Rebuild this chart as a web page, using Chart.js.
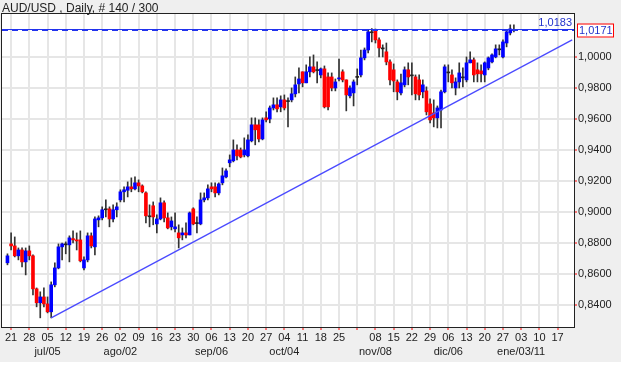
<!DOCTYPE html>
<html>
<head>
<meta charset="utf-8">
<script src="https://cdn.jsdelivr.net/npm/chart.js@4.4.0/dist/chart.umd.min.js"></script>
<style>
  html, body { margin: 0; padding: 0; background: #fff; }
  #wrap { position: relative; width: 621px; height: 368px; }
  #title { position: absolute; left: 2px; top: 1px; font: 12px "Liberation Sans", Arial, sans-serif; color: #222; white-space: pre; }
</style>
</head>
<body>
<div id="wrap">
  <canvas id="chart" width="621" height="368"></canvas>
  <div id="title">AUD/USD , Daily, # 140 / 300</div>
</div>
<script>
// daily candles, 18 jun 2010 .. 30 dic 2010
const openP = [
  .8672,.8794,.8781,.8717,.8755,.8678,.8749,.8717,.8504,.8414,
  .8452,.8407,.8356,.8530,.8639,.8775,.8794,.8788,.8828,.8820,
  .8820,.8639,.8691,.8846,.8775,.8949,.8962,.9014,.9020,.8955,
  .9014,.9078,.9130,.9140,.9162,.9149,.9188,.9168,.9123,.8975,
  .9040,.8923,.8955,.9059,.8962,.8904,.8891,.8865,.8852,.8865,
  .8852,.9020,.8925,.8923,.9078,.9091,.9162,.9162,.9123,.9188,
  .9226,.9317,.9330,.9400,.9400,.9368,.9362,.9459,.9562,.9562,
  .9471,.9607,.9600,.9671,.9691,.9678,.9723,.9712,.9723,.9762,
  .9826,.9904,.9833,.9904,.9936,.9912,.9884,.9923,.9871,.9871,
  .9800,.9858,.9904,.9852,.9749,.9768,.9868,.9884,.9994,1.0045,
  1.0156,1.0168,1.0110,1.0058,1.0033,.9968,.9917,.9839,.9768,.9820,
  .9917,.9884,.9871,.9852,.9775,.9781,.9697,.9639,.9607,.9658,
  .9775,.9903,.9884,.9800,.9839,.9871,.9852,.9962,.9981,.9917,
  .9910,.9884,.9929,.9968,1.0000,1.0046,1.0000,1.0090,1.0155,1.0176
];
const highP = [
  .8730,.8865,.8839,.8768,.8768,.8768,.8781,.8723,.8510,.8485,
  .8510,.8452,.8549,.8672,.8794,.8800,.8807,.8846,.8878,.8865,
  .8878,.8710,.8865,.8865,.8968,.8975,.9033,.9078,.9033,.9046,
  .9059,.9143,.9162,.9194,.9220,.9226,.9207,.9175,.9130,.9046,
  .9065,.8981,.9091,.9072,.8994,.8968,.8994,.8917,.8897,.8930,
  .9000,.9027,.8968,.9123,.9123,.9175,.9188,.9188,.9188,.9284,
  .9278,.9368,.9465,.9433,.9413,.9478,.9497,.9607,.9607,.9594,
  .9607,.9646,.9684,.9736,.9736,.9749,.9755,.9736,.9800,.9871,
  .9929,.9904,.9949,1.0000,1.0013,.9968,.9929,.9942,.9897,.9897,
  .9858,.9987,.9917,.9852,.9813,.9852,.9923,1.0045,1.0058,1.0174,
  1.0183,1.0180,1.0123,1.0078,1.0090,.9981,.9955,.9852,.9890,.9936,
  .9962,.9962,.9884,.9884,.9852,.9807,.9729,.9723,.9684,.9787,
  .9949,.9949,.9917,.9865,.9962,.9929,1.0000,1.0033,.9994,.9962,
  .9949,.9968,1.0000,1.0020,1.0078,1.0078,1.0110,1.0174,1.0207,1.0207
];
const lowP = [
  .8659,.8755,.8710,.8691,.8646,.8594,.8691,.8465,.8388,.8317,
  .8388,.8349,.8317,.8517,.8633,.8691,.8730,.8678,.8800,.8755,
  .8678,.8626,.8678,.8768,.8723,.8904,.8949,.8968,.8904,.8936,
  .8968,.9065,.9065,.9097,.9130,.9143,.9130,.9123,.8930,.8904,
  .8917,.8865,.8949,.8936,.8891,.8884,.8872,.8768,.8820,.8833,
  .8852,.8917,.8865,.8917,.9065,.9078,.9130,.9097,.9110,.9175,
  .9220,.9291,.9323,.9336,.9349,.9355,.9355,.9452,.9433,.9452,
  .9465,.9581,.9575,.9658,.9646,.9646,.9658,.9549,.9710,.9742,
  .9768,.9807,.9833,.9871,.9897,.9833,.9865,.9671,.9658,.9781,
  .9781,.9845,.9839,.9652,.9736,.9684,.9820,.9871,.9981,1.0026,
  1.0097,1.0090,1.0000,1.0000,.9949,.9820,.9775,.9723,.9755,.9807,
  .9820,.9755,.9723,.9723,.9736,.9626,.9575,.9549,.9542,.9542,
  .9768,.9839,.9800,.9755,.9800,.9807,.9839,.9962,.9839,.9839,
  .9839,.9839,.9917,.9962,.9994,1.0013,.9994,1.0065,1.0142,1.0162
];
const closeP = [
  .8717,.8781,.8717,.8755,.8678,.8749,.8717,.8504,.8414,.8452,
  .8407,.8356,.8530,.8639,.8775,.8794,.8788,.8833,.8820,.8813,
  .8685,.8691,.8846,.8781,.8955,.8962,.9014,.9020,.8955,.9014,
  .9033,.9130,.9143,.9162,.9149,.9188,.9168,.9130,.8975,.8969,
  .8968,.8955,.9059,.8962,.8897,.8942,.8904,.8833,.8865,.8852,
  .8994,.8923,.8930,.9078,.9091,.9149,.9149,.9123,.9181,.9233,
  .9265,.9336,.9400,.9362,.9355,.9400,.9465,.9562,.9530,.9471,
  .9594,.9594,.9671,.9691,.9665,.9723,.9671,.9717,.9762,.9820,
  .9858,.9833,.9904,.9936,.9904,.9917,.9923,.9678,.9678,.9800,
  .9839,.9865,.9852,.9755,.9800,.9839,.9874,.9994,1.0045,1.0162,
  1.0162,1.0110,1.0058,1.0052,.9968,.9852,.9845,.9775,.9833,.9917,
  .9871,.9878,.9762,.9755,.9820,.9646,.9594,.9607,.9671,.9775,
  .9936,.9897,.9833,.9839,.9897,.9865,.9962,.9981,.9884,.9891,
  .9891,.9962,.9994,1.0013,1.0052,1.0052,1.0097,1.0162,1.0181,1.0171
];

// weekly tick labels (mondays), second row = month
const weekLabels = ['21','28','05','12','19','26','02','09','16','23','30','06','13','20','27',
  '04','11','18','25','','08','15','22','29','06','13','20','27','03','10','17'];
const monthLabels = ['','','jul/05','','','','ago/02','','','','','sep/06','','','',
  'oct/04','','','','','nov/08','','','','dic/06','','','','ene/03/11','',''];
const yTicks = [0.84, 0.86, 0.88, 0.90, 0.92, 0.94, 0.96, 0.98, 1.00];

const resistance = 1.0183;
const lastPrice = 1.0171;
const trendDates = ['2010-07-06', '2011-01-21'];
const trendValues = [0.8317, 1.0110];

const firstDay = '2010-06-17';
const firstCandle = '2010-06-18';
const firstMonday = '2010-06-21';
const slotCount = 157;

// weekday slots on the x axis
let slots = [];
let d = new Date(firstDay + 'T00:00:00Z');
while (slots.length < slotCount) {
  let wd = d.getUTCDay();
  if (wd != 0 && wd != 6) slots.push(d.toISOString().slice(0, 10));
  d.setUTCDate(d.getUTCDate() + 1);
}
const c0 = slots.indexOf(firstCandle);
const m0 = slots.indexOf(firstMonday);

function weekIndex(i) {
  let k = (i - m0) / 5;
  return (i >= m0 && Number.isInteger(k) && k < weekLabels.length) ? k : -1;
}

let wickData = [], bodyData = [], bodyColors = [];
for (let i = 0; i < slots.length; i++) {
  let k = i - c0;
  if (k >= 0 && k < openP.length) {
    let o = openP[k], c = closeP[k];
    wickData.push([lowP[k], highP[k]]);
    bodyData.push([Math.min(o, c), Math.max(o, c)]);
    if (Math.abs(c - o) < 0.00065) bodyColors.push('#222222');
    else bodyColors.push(c >= o ? '#0000ff' : '#ff0000');
  } else {
    wickData.push(null);
    bodyData.push(null);
    bodyColors.push('#000');
  }
}
let trendData = trendDates.map((t, i) => ({x: t, y: trendValues[i]}));

const fmt = v => v.toFixed(4).replace('.', ',');
const FONT = '"Liberation Sans", Arial, sans-serif';

const framePlugin = {
  id: 'frame',
  beforeDraw(chart) {
    const ctx = chart.ctx, a = chart.chartArea;
    ctx.save();
    ctx.fillStyle = '#efefef';
    ctx.fillRect(0, 0, chart.width, 362);
    ctx.fillStyle = '#ffffff';
    ctx.fillRect(0, 362, chart.width, chart.height - 362);
    ctx.fillRect(a.left, a.top, a.right - a.left, a.bottom - a.top);
    ctx.restore();
  },
  afterDatasetsDraw(chart) {
    const ctx = chart.ctx, a = chart.chartArea, y = chart.scales.y;
    const yr = Math.round(y.getPixelForValue(resistance)) + 0.5;
    const yl = Math.round(y.getPixelForValue(lastPrice)) + 0.5;
    ctx.save();
    ctx.strokeStyle = '#2233ee';
    ctx.lineWidth = 1.2;
    ctx.beginPath();
    ctx.moveTo(a.left, yr); ctx.lineTo(a.right, yr);
    ctx.stroke();
    ctx.setLineDash([6, 4]);
    ctx.beginPath();
    ctx.moveTo(a.left, yl); ctx.lineTo(a.right, yl);
    ctx.stroke();
    ctx.setLineDash([]);
    ctx.font = '11px ' + FONT;
    ctx.fillStyle = '#2233cc';
    ctx.textAlign = 'right';
    ctx.textBaseline = 'bottom';
    ctx.fillText(fmt(resistance), a.right - 2, yr - 1);
    // boxed last price on the axis
    ctx.fillStyle = '#ffffff';
    ctx.fillRect(577, yl - 6, 36, 13);
    ctx.strokeStyle = '#ff0000';
    ctx.lineWidth = 1;
    ctx.strokeRect(577.5, yl - 6.5, 36, 13);
    ctx.fillStyle = '#2233cc';
    ctx.textAlign = 'left';
    ctx.textBaseline = 'middle';
    ctx.fillText(fmt(lastPrice), 579, yl + 0.5);
    ctx.restore();
  },
  afterDraw(chart) {
    const ctx = chart.ctx, a = chart.chartArea;
    ctx.save();
    ctx.strokeStyle = '#222';
    ctx.lineWidth = 1;
    ctx.strokeRect(a.left - 0.5, a.top - 0.5, a.right - a.left + 1, a.bottom - a.top + 1);
    ctx.restore();
  }
};

new Chart(document.getElementById('chart'), {
  type: 'bar',
  data: {
    labels: slots,
    datasets: [
      {
        type: 'line',
        data: trendData,
        borderColor: '#4a4aff',
        borderWidth: 1.3,
        pointRadius: 0,
        order: 0
      },
      {
        data: bodyData,
        backgroundColor: bodyColors,
        barThickness: 3,
        minBarLength: 1,
        grouped: false,
        order: 1
      },
      {
        data: wickData,
        backgroundColor: '#333333',
        barThickness: 1,
        grouped: false,
        order: 2
      }
    ]
  },
  options: {
    responsive: false,
    animation: false,
    events: [],
    layout: { padding: { left: 2, top: 14, right: 0, bottom: 0 } },
    plugins: { legend: { display: false }, tooltip: { enabled: false } },
    scales: {
      x: {
        afterFit: s => { s.height = 41; },
        border: { color: '#000' },
        grid: {
          offset: false,
          lineWidth: 2,
          color: c => weekIndex(c.index) >= 0 ? '#e6e6e6' : 'rgba(0,0,0,0)',
          tickColor: c => weekIndex(c.index) >= 0 ? '#ff0000' : 'rgba(0,0,0,0)',
          tickLength: 3,
          tickWidth: 1
        },
        ticks: {
          autoSkip: false,
          maxRotation: 0,
          padding: 1,
          color: '#222',
          font: { family: FONT, size: 11, lineHeight: 1.27 },
          callback: (v, i) => {
            let k = weekIndex(i);
            if (k < 0) return '';
            return monthLabels[k] ? [weekLabels[k], monthLabels[k]] : weekLabels[k];
          }
        }
      },
      y: {
        position: 'right',
        min: 0.8258,
        max: 1.0277,
        afterFit: s => { s.width = 47; },
        afterBuildTicks: s => { s.ticks = yTicks.map(v => ({value: v})); },
        border: { color: '#000' },
        grid: { color: '#e6e6e6', lineWidth: 2, tickColor: '#ff0000', tickLength: 3, tickWidth: 1 },
        ticks: {
          padding: 1,
          color: '#222',
          font: { family: FONT, size: 11 },
          callback: v => fmt(v)
        }
      }
    }
  },
  plugins: [framePlugin]
});
</script>
</body>
</html>
